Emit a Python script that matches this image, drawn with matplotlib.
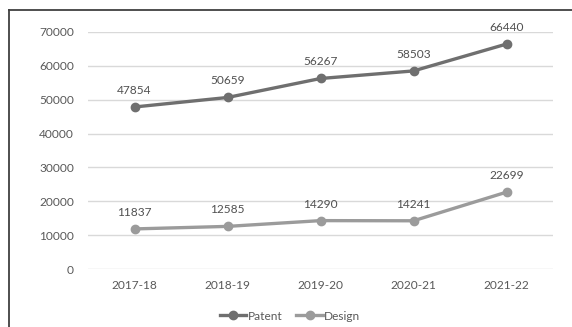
import matplotlib
matplotlib.use("Agg")
import matplotlib.pyplot as plt
from matplotlib.lines import Line2D

years = ["2017-18", "2018-19", "2019-20", "2020-21", "2021-22"]
patent = [47854, 50659, 56267, 58503, 66440]
design = [11837, 12585, 14290, 14241, 22699]

plt.rcParams["font.family"] = ["Lato", "DejaVu Sans"]
text_col = "#595959"
fs = 8.6

fig = plt.figure(figsize=(5.72, 3.27), dpi=100)
ax = fig.add_axes([88 / 572, 1 - 269 / 327, 465 / 572, 237 / 327])

x = list(range(len(years)))
ax.plot(x, patent, color="#6f6f6f", lw=2.4, marker="o", ms=6, label="Patent", zorder=3)
ax.plot(x, design, color="#9b9b9b", lw=2.4, marker="o", ms=6, label="Design", zorder=3)

for xi, v in zip(x, patent):
    ax.annotate(str(v), (xi, v), xytext=(0, 8), textcoords="offset points",
                ha="center", va="bottom", fontsize=fs, color="#505050")
for xi, v in zip(x, design):
    ax.annotate(str(v), (xi, v), xytext=(0, 8), textcoords="offset points",
                ha="center", va="bottom", fontsize=fs, color="#505050")

ax.set_xlim(-0.5, len(years) - 0.5)
ax.set_ylim(0, 70000)
ax.set_yticks(range(0, 70001, 10000))
ax.set_xticks(x)
ax.set_xticklabels(years)
ax.yaxis.grid(True, color="#d9d9d9", lw=1)
ax.set_axisbelow(True)
for s in ax.spines.values():
    s.set_visible(False)
ax.tick_params(length=0, labelsize=fs, colors=text_col, pad=10)
ax.tick_params(axis="x", pad=8)

handles = [Line2D([], [], color="#6f6f6f", lw=2.4, marker="o", ms=6),
           Line2D([], [], color="#9b9b9b", lw=2.4, marker="o", ms=6)]
fig.legend(handles, ["Patent", "Design"], loc="center", bbox_to_anchor=(290 / 572, 1 - 316 / 327),
           ncol=2, frameon=False, fontsize=fs, handlelength=2.2, handletextpad=0.1,
           columnspacing=1.2, labelcolor=text_col)

# border on top and left edge of the crop
fig.add_artist(Line2D([9 / 572, 9 / 572], [0, 1 - 10 / 327], transform=fig.transFigure,
                      color="#404040", lw=1.3))
fig.add_artist(Line2D([9 / 572, 1], [1 - 10 / 327, 1 - 10 / 327], transform=fig.transFigure,
                      color="#404040", lw=1.3))

fig.savefig("out.png", dpi=100)
